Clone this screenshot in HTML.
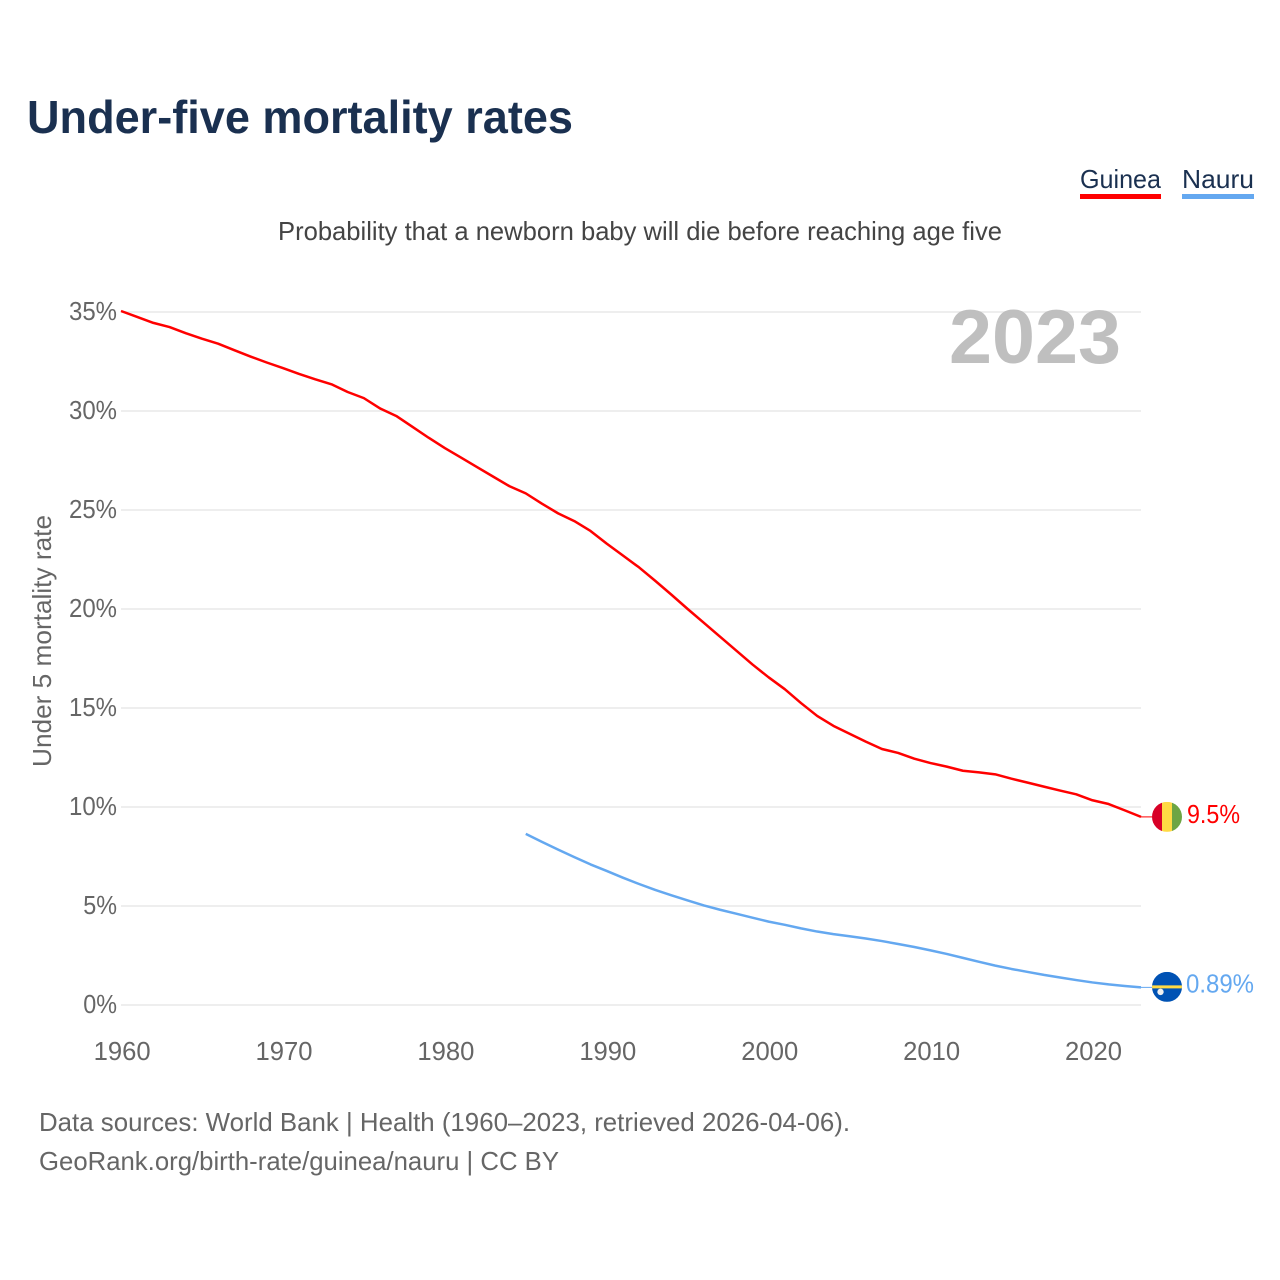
<!DOCTYPE html>
<html lang="en">
<head>
<meta charset="utf-8">
<title>Under-five mortality rates</title>
<style>
html,body{margin:0;padding:0;background:#fff;}
svg{display:block;font-family:"Liberation Sans",sans-serif;}
</style>
</head>
<body>
<svg id="chart" xmlns="http://www.w3.org/2000/svg" width="1280" height="1280" viewBox="0 0 1280 1280">
  <rect x="0" y="0" width="1280" height="1280" fill="#fff"/>
  <text x="27" y="133" font-size="46" font-weight="700" fill="#1a3050" textLength="546" lengthAdjust="spacingAndGlyphs">Under-five mortality rates</text>
  <g>
    <text x="1080" y="188" font-size="26" fill="#1a3050" textLength="81" lengthAdjust="spacingAndGlyphs">Guinea</text>
    <rect x="1080" y="194" width="81" height="5" fill="#ff0000"/>
  </g>
  <g>
    <text x="1182" y="188" font-size="26" fill="#1a3050" textLength="72" lengthAdjust="spacingAndGlyphs">Nauru</text>
    <rect x="1182" y="194" width="72" height="5" fill="#64a8f0"/>
  </g>
  <text x="278" y="240" font-size="26" fill="#444" textLength="724" lengthAdjust="spacingAndGlyphs">Probability that a newborn baby will die before reaching age five</text>
  <g id="grid"></g>
  <g id="y-ticks"></g>
  <g id="x-ticks"></g>
  <text transform="translate(51 641) rotate(-90)" text-anchor="middle" font-size="26" fill="#666" textLength="252" lengthAdjust="spacingAndGlyphs">Under 5 mortality rate</text>
  <text x="949" y="363" font-size="76" font-weight="700" fill="#bfbfbf" textLength="172" lengthAdjust="spacingAndGlyphs">2023</text>
  <g id="series"></g>
  <defs>
    <clipPath id="clip-guinea"><circle id="clip-guinea-circle" r="15"/></clipPath>
    <clipPath id="clip-nauru"><circle id="clip-nauru-circle" r="15"/></clipPath>
  </defs>
  <g id="flag-guinea" clip-path="url(#clip-guinea)">
    <rect x="-15" y="-15" width="10" height="30" fill="#d80027"/>
    <rect x="-5" y="-15" width="10" height="30" fill="#ffda44"/>
    <rect x="5" y="-15" width="10" height="30" fill="#6da544"/>
  </g>
  <g id="flag-nauru" clip-path="url(#clip-nauru)">
    <rect x="-15" y="-15" width="30" height="30" fill="#0052b4"/>
    <rect x="-15" y="-1.5" width="30" height="3" fill="#ffda44"/>
    <circle cx="-6.5" cy="5" r="3.2" fill="#f0f0f0"/>
  </g>
  <text id="value-guinea" x="1187" font-size="26" fill="#ff0000" textLength="53" lengthAdjust="spacingAndGlyphs"></text>
  <text id="value-nauru" x="1186" font-size="26" fill="#64a8f0" textLength="68" lengthAdjust="spacingAndGlyphs"></text>
  <text x="39" y="1131" font-size="26" fill="#666" textLength="811" lengthAdjust="spacingAndGlyphs">Data sources: World Bank | Health (1960–2023, retrieved 2026-04-06).</text>
  <text x="39" y="1170" font-size="26" fill="#666" textLength="520" lengthAdjust="spacingAndGlyphs">GeoRank.org/birth-rate/guinea/nauru | CC BY</text>
</svg>
<script>
const guineaYears = [1960,1961,1962,1963,1964,1965,1966,1967,1968,1969,1970,1971,1972,1973,1974,1975,1976,1977,1978,1979,1980,1981,1982,1983,1984,1985,1986,1987,1988,1989,1990,1991,1992,1993,1994,1995,1996,1997,1998,1999,2000,2001,2002,2003,2004,2005,2006,2007,2008,2009,2010,2011,2012,2013,2014,2015,2016,2017,2018,2019,2020,2021,2022,2023];
const guineaValues = [35.05,34.75,34.45,34.24,33.93,33.65,33.4,33.07,32.75,32.45,32.17,31.87,31.6,31.35,30.96,30.65,30.13,29.75,29.2,28.65,28.13,27.65,27.16,26.68,26.2,25.84,25.32,24.83,24.44,23.94,23.3,22.7,22.1,21.42,20.72,20.0,19.3,18.6,17.9,17.2,16.55,15.95,15.25,14.6,14.1,13.7,13.3,12.93,12.73,12.44,12.22,12.04,11.83,11.75,11.65,11.43,11.23,11.03,10.83,10.64,10.34,10.15,9.83,9.5];
const nauruYears = [1985,1986,1987,1988,1989,1990,1991,1992,1993,1994,1995,1996,1997,1998,1999,2000,2001,2002,2003,2004,2005,2006,2007,2008,2009,2010,2011,2012,2013,2014,2015,2016,2017,2018,2019,2020,2021,2022,2023];
const nauruValues = [8.64,8.24,7.85,7.47,7.1,6.77,6.43,6.11,5.81,5.54,5.28,5.03,4.81,4.61,4.41,4.21,4.05,3.87,3.71,3.58,3.47,3.36,3.23,3.08,2.93,2.76,2.58,2.38,2.18,1.99,1.82,1.67,1.52,1.39,1.26,1.14,1.04,0.96,0.89];
const yTickValues = [0,5,10,15,20,25,30,35];
const xTickValues = [1960,1970,1980,1990,2000,2010,2020];
const guineaLabel = "9.5%";
const nauruLabel = "0.89%";

const SVG_NS = "http://www.w3.org/2000/svg";
const plotLeft = 121, plotRight = 1141, plotTop = 312, plotBottom = 1005;
const xMin = 1960, xMax = 2023, yMin = 0, yMax = 35;
function xScale(year) { return plotLeft + (year - xMin) / (xMax - xMin) * (plotRight - plotLeft); }
function yScale(value) { return plotBottom - (value - yMin) / (yMax - yMin) * (plotBottom - plotTop); }
function make(tag, attrs, parent) {
  const el = document.createElementNS(SVG_NS, tag);
  for (const k in attrs) el.setAttribute(k, attrs[k]);
  parent.appendChild(el);
  return el;
}

const grid = document.getElementById("grid");
const yTicks = document.getElementById("y-ticks");
yTickValues.forEach(function (v) {
  const y = yScale(v);
  const line = make("line", {x1: plotLeft, x2: plotRight, y1: y, y2: y, stroke: "#eeeeee", "stroke-width": 2}, grid);
  
  
  const label = String(v) + "%";
  const w = (label.length - 1) * 14.25 + 19.5;
  const t = make("text", {x: 117 - w, y: y + 8, "font-size": 26, fill: "#666", textLength: w, lengthAdjust: "spacingAndGlyphs"}, yTicks);
  
  
  t.textContent = label;
});

const xTicks = document.getElementById("x-ticks");
xTickValues.forEach(function (v) {
  const t = make("text", {x: xScale(v) - 28 + 0.6, y: 1060, "font-size": 26, fill: "#666", textLength: 57, lengthAdjust: "spacingAndGlyphs"}, xTicks);
  
  
  t.textContent = String(v);
});

function linePoints(years, values) {
  return years.map(function (yr, i) { return xScale(yr).toFixed(2) + "," + yScale(values[i]).toFixed(2); }).join(" ");
}
const series = document.getElementById("series");
const guineaLine = make("polyline", {points: linePoints(guineaYears, guineaValues), fill: "none", stroke: "#ff0000", "stroke-width": 2.5, "stroke-linejoin": "round"}, series);


const nauruLine = make("polyline", {points: linePoints(nauruYears, nauruValues), fill: "none", stroke: "#64a8f0", "stroke-width": 2.5, "stroke-linejoin": "round"}, series);



const guineaEndY = yScale(guineaValues[guineaValues.length - 1]);
const nauruEndY = yScale(nauruValues[nauruValues.length - 1]);
const guineaConn = make("line", {x1: plotRight, x2: 1152, y1: guineaEndY, y2: guineaEndY, stroke: "#ff0000", "stroke-width": 1}, series);


const nauruConn = make("line", {x1: plotRight, x2: 1152, y1: nauruEndY, y2: nauruEndY, stroke: "#64a8f0", "stroke-width": 1}, series);



const flagX = 1167;
document.getElementById("flag-guinea").setAttribute("transform", "translate(" + flagX + " " + guineaEndY + ")");
document.getElementById("flag-nauru").setAttribute("transform", "translate(" + flagX + " " + (nauruEndY - 0.5) + ")");

const valueGuinea = document.getElementById("value-guinea");
valueGuinea.setAttribute("y", guineaEndY + 6);
valueGuinea.textContent = guineaLabel;
const valueNauru = document.getElementById("value-nauru");
valueNauru.setAttribute("y", nauruEndY + 5);
valueNauru.textContent = nauruLabel;
</script>
</body>
</html>
